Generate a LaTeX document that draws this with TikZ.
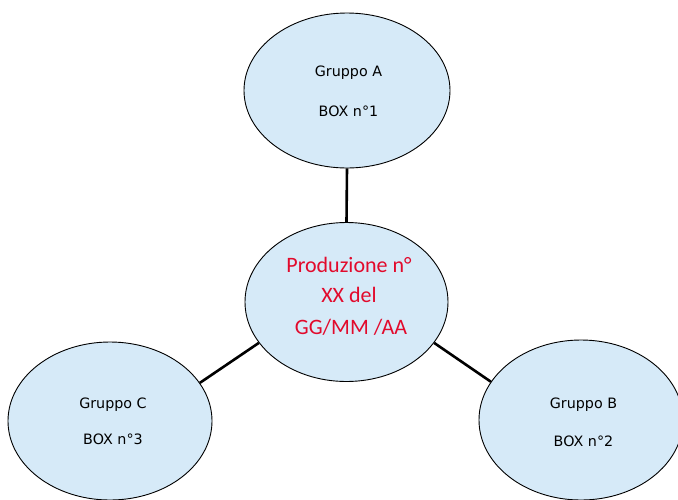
\documentclass[tikz,border=0pt]{standalone}
\usepackage{fontspec}
\usetikzlibrary{shapes.geometric}
\newfontfamily\labelfont{DejaVu Sans}
\newfontfamily\titlefont{Carlito}
\definecolor{bubblefill}{RGB}{214,234,248}
\definecolor{titlered}{RGB}{226,10,44}
\tikzset{
  bubble/.style={ellipse, draw=black, line width=0.9pt, fill=bubblefill, inner sep=0pt},
  link/.style={draw=black, line width=2.6pt},
  grouptext/.style={anchor=base, inner sep=0pt, font=\labelfont\fontsize{14.3}{16}\selectfont},
  titletext/.style={anchor=base, inner sep=0pt, text=titlered, font=\titlefont\fontsize{22}{26}\selectfont}
}
\begin{document}
\begin{tikzpicture}[x=1pt,y=-1pt]
  \useasboundingbox (0,0) rectangle (678,499);
  \clip (0,0) rectangle (678,499);

  % the four bubbles
  \node[bubble, minimum width=206pt, minimum height=155pt] (ga) at (347,90.5) {};
  \node[bubble, minimum width=203pt, minimum height=159pt] (prod) at (346.5,302) {};
  \node[bubble, minimum width=204pt, minimum height=158pt] (gc) at (110,421) {};
  \node[bubble, minimum width=204pt, minimum height=160pt] (gb) at (581,420) {};

  % links from the central bubble to each group
  \draw[link] (ga.south) -- (prod.north);
  \draw[link] (prod.205) -- (gc.23);
  \draw[link] (prod.335) -- (gb.157);

  % group labels
  \node[grouptext] (ganame) at (348.5,76) {Gruppo A};
  \node[grouptext] (gabox)  at (348.5,116) {BOX n°1};
  \node[grouptext] (gcname) at (113,408) {Gruppo C};
  \node[grouptext] (gcbox)  at (113,444.5) {BOX n°3};
  \node[grouptext] (gbname) at (583.5,408.5) {Gruppo B};
  \node[grouptext] (gbbox)  at (583.5,446.5) {BOX n°2};

  % central title
  \node[titletext] (pline1) at (349,272) {Produzione n°};
  \node[titletext] (pline2) at (349,302) {XX del};
  \node[titletext] (pline3) at (351,334) {GG/MM /AA};
\end{tikzpicture}
\end{document}
